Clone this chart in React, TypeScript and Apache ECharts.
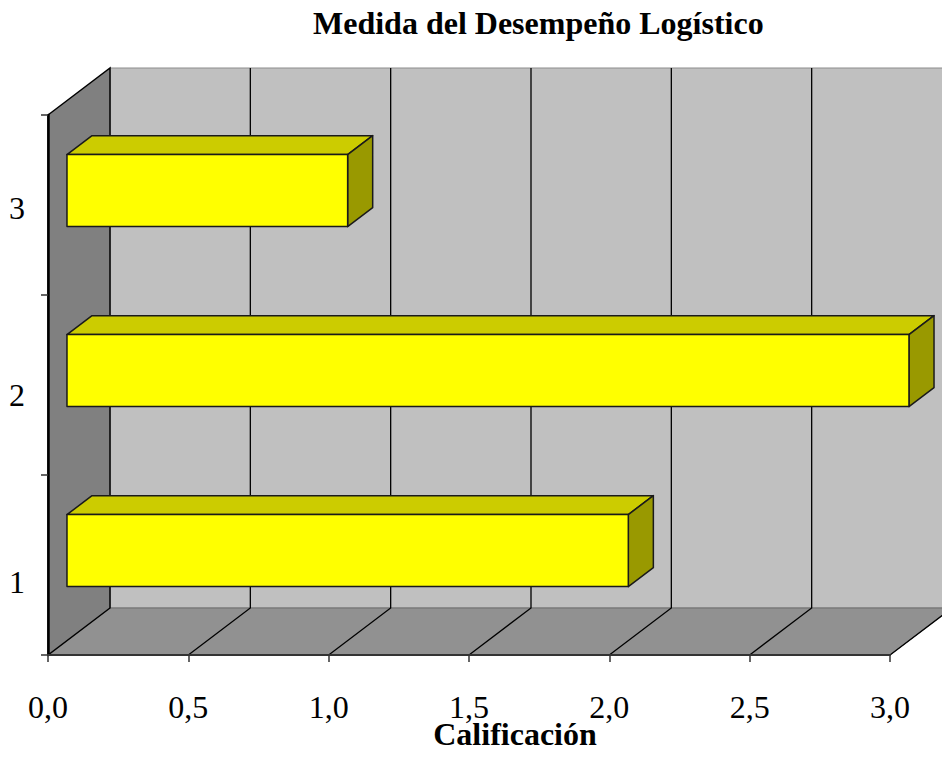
import React, { useEffect, useRef } from 'react';
import * as echarts from 'echarts';

const titleText = 'Medida del Desempeño Logístico';
const axisTitle = 'Calificación';
const categories = ['1', '2', '3'];
const scores = [2.0, 3.0, 1.0];
const xTicks = [0, 0.5, 1, 1.5, 2, 2.5, 3];
const xTickLabels = ['0,0', '0,5', '1,0', '1,5', '2,0', '2,5', '3,0'];

// oblique projection of depth (pixels for full depth)
const DX = 62;
const DY = -47;
const F0 = 0.306; // bar front depth fraction
const F1 = 0.71; // bar back depth fraction
const FONT = "'Liberation Serif', 'Times New Roman', serif";

export default function App() {
  const ref = useRef<HTMLDivElement>(null);

  useEffect(() => {
    if (!ref.current) return;
    const chart = echarts.init(ref.current, undefined, { renderer: 'svg' });

    const option: any = {
      animation: false,
      backgroundColor: '#ffffff',
      title: {
        text: titleText,
        left: 313,
        top: 7,
        padding: 0,
        textStyle: { fontFamily: FONT, fontWeight: 'bold', fontSize: 32, color: '#000' },
      },
      grid: {
        left: 48,
        top: 115,
        width: 842,
        height: 540,
        containLabel: false,
        outerBoundsMode: 'none',
      },
      xAxis: {
        type: 'value',
        min: 0,
        max: 3,
        interval: 0.5,
        z: 10,
        name: axisTitle,
        nameLocation: 'middle',
        nameGap: 67,
        nameMoveOverlap: false,
        nameTextStyle: {
          fontFamily: FONT,
          fontWeight: 'bold',
          fontSize: 32,
          lineHeight: 24,
          color: '#000',
          padding: [0, 0, 0, 92],
        },
        axisLine: { show: true, lineStyle: { color: '#333', width: 2 } },
        axisTick: { show: true, length: 7, lineStyle: { color: '#333', width: 1.5 } },
        splitLine: { show: false },
        axisLabel: {
          margin: 40,
          fontFamily: FONT,
          fontSize: 32,
          lineHeight: 24,
          color: '#000',
          formatter: (v: number) => {
            const i = xTicks.findIndex((t) => Math.abs(t - v) < 1e-6);
            return i >= 0 ? xTickLabels[i] : '';
          },
        },
      },
      yAxis: {
        type: 'category',
        data: categories,
        z: 10,
        axisLine: { show: true, lineStyle: { color: '#000', width: 2.5 } },
        axisTick: { show: true, length: 7, lineStyle: { color: '#333', width: 1.5 } },
        splitLine: { show: false },
        axisLabel: {
          margin: 23,
          fontFamily: FONT,
          fontSize: 32,
          color: '#000',
          verticalAlign: 'top',
          formatter: (v: string, i: number) => `{d${i}|${v}}`,
          rich: {
            d0: { fontFamily: FONT, fontSize: 32, color: '#000', lineHeight: 34 },
            d1: { fontFamily: FONT, fontSize: 32, color: '#000', lineHeight: 20 },
            d2: { fontFamily: FONT, fontSize: 32, color: '#000', lineHeight: 6 },
          },
        },
      },
      series: [
        {
          type: 'custom',
          name: 'walls',
          silent: true,
          clip: false,
          z: 1,
          data: [[0, 0]],
          renderItem: (params: any, api: any) => {
            const cs = params.coordSys;
            const x = cs.x;
            const y = cs.y;
            const w = cs.width;
            const h = cs.height;
            const children: any[] = [];
            children.push({
              type: 'rect',
              shape: { x: x + DX, y: y + DY, width: w, height: h },
              style: { fill: '#C0C0C0', stroke: '#8c8c8c', lineWidth: 1 },
            });
            children.push({
              type: 'polygon',
              shape: {
                points: [
                  [x + DX, y + h + DY],
                  [x + w + DX, y + h + DY],
                  [x + w, y + h],
                  [x, y + h],
                ],
              },
              style: { fill: '#919191', stroke: '#6e6e6e', lineWidth: 1 },
            });
            children.push({
              type: 'polygon',
              shape: {
                points: [
                  [x, y],
                  [x + DX, y + DY],
                  [x + DX, y + h + DY],
                  [x, y + h],
                ],
              },
              style: { fill: '#808080', stroke: '#000', lineWidth: 1.5 },
            });
            xTicks.slice(1).forEach((t) => {
              const px = api.coord([t, 0])[0];
              children.push({
                type: 'polyline',
                shape: {
                  points: [
                    [px + DX, y + DY],
                    [px + DX, y + h + DY],
                    [px, y + h],
                  ],
                },
                style: { stroke: '#000', lineWidth: 1.3, fill: null },
              });
            });
            return { type: 'group', children };
          },
        },
        {
          type: 'custom',
          name: 'Calificación',
          clip: false,
          z: 3,
          encode: { x: 0, y: 1 },
          data: scores.map((v, i) => [v, categories[i]]),
          renderItem: (params: any, api: any) => {
            const v = api.value(0);
            const c = api.value(1);
            const p0 = api.coord([0, c]);
            const p1 = api.coord([v, c]);
            const band = api.size([0, 1])[1];
            const half = (band * 0.4) / 2;
            const ox = DX * F0;
            const oy = DY * F0;
            const dx = DX * (F1 - F0);
            const dy = DY * (F1 - F0);
            const x0 = p0[0] + ox;
            const x1 = p1[0] + ox;
            const yt = p0[1] - half + oy;
            const yb = p0[1] + half + oy;
            const stroke = { stroke: '#1a1a1a', lineWidth: 1.5, lineJoin: 'round' };
            return {
              type: 'group',
              children: [
                {
                  type: 'polygon',
                  shape: { points: [[x0, yt], [x1, yt], [x1 + dx, yt + dy], [x0 + dx, yt + dy]] },
                  style: { fill: '#CCCC00', ...stroke },
                },
                {
                  type: 'polygon',
                  shape: { points: [[x1, yt], [x1 + dx, yt + dy], [x1 + dx, yb + dy], [x1, yb]] },
                  style: { fill: '#999900', ...stroke },
                },
                {
                  type: 'rect',
                  shape: { x: x0, y: yt, width: x1 - x0, height: yb - yt },
                  style: { fill: '#FFFF00', ...stroke },
                },
              ],
            };
          },
        },
      ],
    };

    chart.setOption(option);
    return () => chart.dispose();
  }, []);

  return (
    <div
      ref={ref}
      style={{ position: 'absolute', left: 0, top: 0, width: 942, height: 759 }}
    />
  );
}
